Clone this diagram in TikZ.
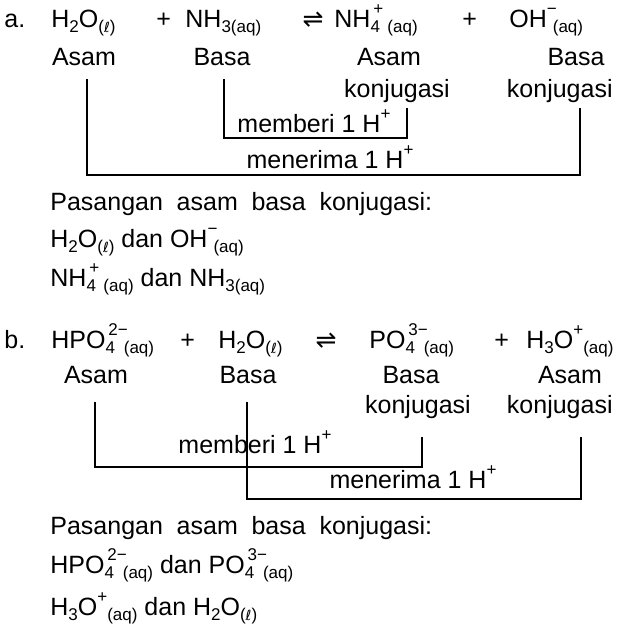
\documentclass[tikz,border=0pt]{standalone}
\usepackage{fontspec}
\setmainfont{Liberation Sans}
\newfontfamily\dv{DejaVu Sans}
\newcommand\sbx[1]{\raisebox{-0.45ex}{\fontsize{8.5}{9}\selectfont #1}}
\newcommand\spx[1]{\raisebox{0.95ex}{\fontsize{8.5}{9}\selectfont #1}}
\newcommand\lsym{{\dv\fontsize{7}{8}\selectfont ℓ}}
\newcommand\liq{\sbx{(\lsym)}}
\newcommand\aq{\sbx{(aq)}}
\newcommand\wsp{\hspace{0.55em}}
\begin{document}
\begin{tikzpicture}[x=0.5pt,y=-0.5pt,
  every node/.style={inner sep=0pt,font=\fontsize{12.5}{14}\selectfont},
  txt/.style={anchor=base west},
  lbl/.style={anchor=base},
  rlbl/.style={anchor=base east},
  ln/.style={line width=0.7pt}]
\useasboundingbox (0,0) rectangle (616,632);
% ---- a ----
\node[txt] (a) at (4,27) {a.};
\node[txt] (a1) at (51,27) {H\sbx{2}O\liq};
\node[txt] (ap1) at (156,27) {+};
\node[txt] (a2) at (185,27) {NH\sbx{3(aq)}};
\node[lbl] (aeq) at (313,27) {{\dv ⇌}};
\node[txt] (a3) at (334,27) {NH\sbx{4}\hspace{-0.5ex}\spx{+}\,\aq};
\node[txt] (ap2) at (462,27) {+};
\node[txt] (a4) at (509,27) {OH\spx{−}\hspace{-0.3ex}\aq};
\node[lbl] (al1) at (84,65) {Asam};
\node[lbl] (al2) at (222,65) {Basa};
\node[lbl] (al3) at (389,65) {Asam};
\node[lbl] (al3b) at (397,97) {konjugasi};
\node[lbl] (al4) at (576,65) {Basa};
\node[rlbl] (al4b) at (613,97) {konjugasi};
\coordinate (ia) at (224,79);
\coordinate (ib) at (407,108);
\coordinate (oa) at (87,79);
\coordinate (ob) at (580,108);
\draw[ln] (ia) |- (407,138) -- (ib);
\draw[ln] (oa) |- (580,175) -- (ob);
\node[lbl] (amb) at (314,132) {memberi 1 H\spx{+}};
\node[lbl] (amn) at (330,168) {menerima 1 H\spx{+}};
\node[txt] (ap) at (50,210) {Pasangan\wsp asam\wsp basa\wsp konjugasi:};
\node[txt] (ap1l) at (50,247) {H\sbx{2}O\liq\ dan OH\spx{−}\hspace{-0.3ex}\aq};
\node[txt] (ap2l) at (50,286) {NH\sbx{4}\hspace{-0.5ex}\spx{+}\,\aq\ dan NH\sbx{3(aq)}};
% ---- b ----
\node[txt] (b) at (4,348) {b.};
\node[txt] (b1) at (51,348) {HPO\sbx{4}\hspace{-0.5ex}\spx{2−}\hspace{-0.3ex}\aq};
\node[txt] (bp1) at (180,348) {+};
\node[txt] (b2) at (218,348) {H\sbx{2}O\liq};
\node[lbl] (beq) at (326,348) {{\dv ⇌}};
\node[txt] (b3) at (369,348) {PO\sbx{4}\hspace{-0.5ex}\spx{3−}\hspace{-0.3ex}\aq};
\node[txt] (bp2) at (494,348) {+};
\node[txt] (b4) at (526,348) {H\sbx{3}O\spx{+}\aq};
\node[lbl] (bl1) at (96,383) {Asam};
\node[lbl] (bl2) at (248,383) {Basa};
\node[lbl] (bl3) at (411,383) {Basa};
\node[lbl] (bl3b) at (418,413) {konjugasi};
\node[lbl] (bl4) at (570,383) {Asam};
\node[rlbl] (bl4b) at (613,413) {konjugasi};
\coordinate (la) at (95,402);
\coordinate (lb) at (422,437);
\coordinate (ra) at (247,402);
\coordinate (rb) at (581,437);
\node[lbl] (bmb) at (255,453) {memberi 1 H\spx{+}};
\node[lbl] (bmn) at (413,488) {menerima 1 H\spx{+}};
\draw[ln] (la) |- (422,467) -- (lb);
\draw[ln] (ra) |- (581,499) -- (rb);
\node[txt] (bp) at (50,534) {Pasangan\wsp asam\wsp basa\wsp konjugasi:};
\node[txt] (bp1l) at (50,573) {HPO\sbx{4}\hspace{-0.5ex}\spx{2−}\hspace{-0.3ex}\aq\ dan PO\sbx{4}\hspace{-0.5ex}\spx{3−}\hspace{-0.3ex}\aq};
\node[txt] (bp2l) at (50,615) {H\sbx{3}O\spx{+}\aq\ dan H\sbx{2}O\liq};
\end{tikzpicture}
\end{document}
